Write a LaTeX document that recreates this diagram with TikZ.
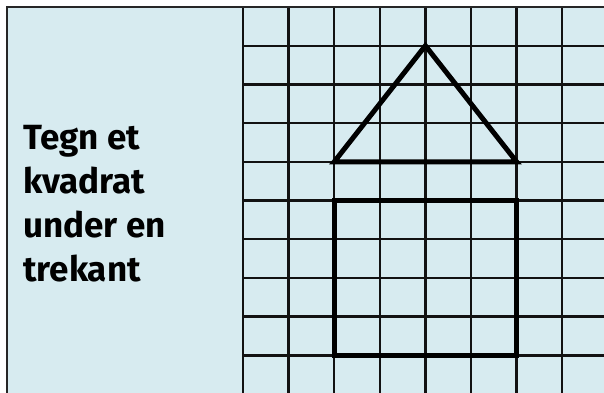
\documentclass[tikz,border=0pt]{standalone}
\usepackage{fontspec}
\setmainfont{Fira Sans}
\definecolor{paperblue}{RGB}{215,235,240}
\definecolor{gridink}{RGB}{18,18,18}

\begin{document}
\begin{tikzpicture}[
  x=1pt, y=-1pt,
  gridline/.style={draw=gridink, line width=2.4pt},
  frameline/.style={draw=black!85, line width=2.4pt},
  shapeline/.style={draw=black, line width=5pt, line join=miter},
  prompt/.style={font=\fontsize{35}{44}\selectfont\bfseries, align=left,
    inner sep=0pt, anchor=base west}
]
\useasboundingbox (0,0) rectangle (604,392);
\fill[paperblue] (7,7) rectangle (604,394);

% squared paper
\foreach \i in {0,...,7}
  \draw[gridline] (243+45.6*\i,7) -- (243+45.6*\i,394);
\foreach \j in {1,...,9}
  \draw[gridline] (243,7+38.7*\j) -- (606,7+38.7*\j);
\draw[frameline] (7,394) -- (7,7) -- (606,7);

% task text
\node[prompt] (task) at (23,281) {Tegn et\\kvadrat\\under en\\trekant};

% triangle on top, square below
\coordinate (apex) at (425.4,45.7);
\coordinate (baseL) at (334.2,161.8);
\coordinate (baseR) at (516.6,161.8);
\draw[shapeline] (baseL) -- (apex) -- (baseR) -- cycle;
\draw[shapeline] (334.2,200.5) rectangle (516.6,355.3);
\end{tikzpicture}
\end{document}
